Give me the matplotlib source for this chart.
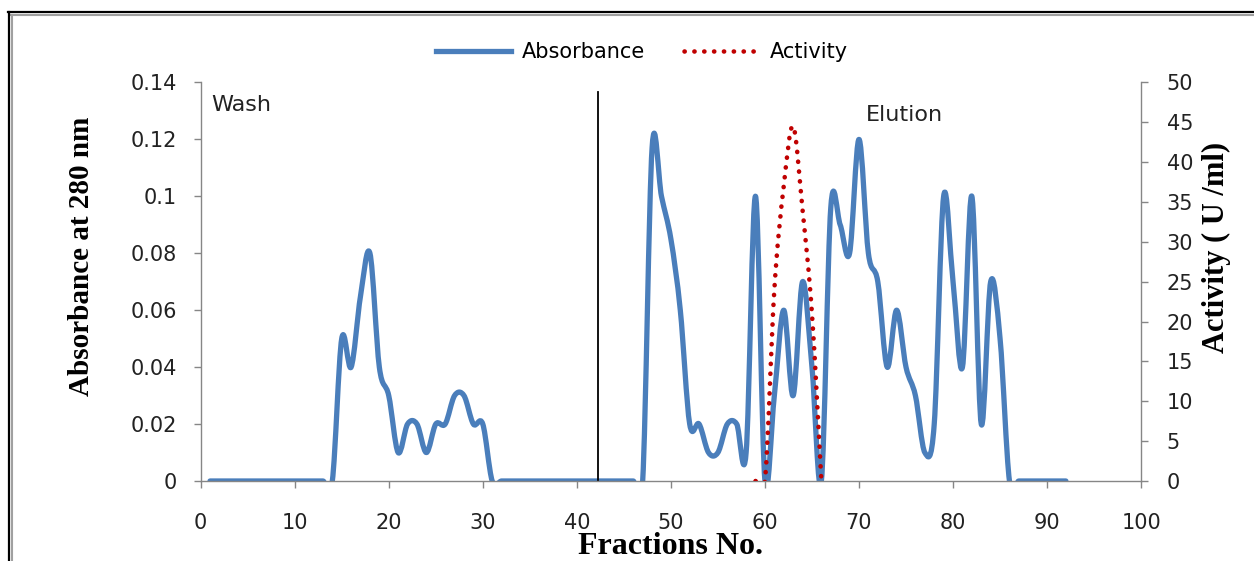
import matplotlib
matplotlib.use("Agg")
from matplotlib import pyplot as plt
from matplotlib.path import Path
from matplotlib.patches import PathPatch
from matplotlib.lines import Line2D
from matplotlib.ticker import FuncFormatter

# Absorbance at 280 nm for fractions 1..92
fractions = list(range(1, 93))
absorbance = ([0] * 13 +
              [0, 0.05, 0.04, 0.065, 0.08, 0.04, 0.03, 0.01, 0.02, 0.02,
               0.01, 0.02, 0.02, 0.03, 0.03, 0.02, 0.02, 0] +
              [0] * 16 +
              [0.117, 0.1, 0.085, 0.06, 0.02, 0.02, 0.01, 0.01, 0.02, 0.02,
               0.01, 0.1, 0, 0.03, 0.06, 0.03, 0.07, 0.04, 0,
               0.096, 0.09, 0.08, 0.12, 0.08, 0.07, 0.04, 0.06, 0.04, 0.03,
               0.01, 0.02, 0.1, 0.07, 0.04, 0.1, 0.02, 0.07, 0.05, 0] +
              [0] * 6)

# Enzyme activity (U/ml)
act_fractions = [59, 60, 61, 62, 63, 64, 65, 66]
activity = [0, 0, 24, 37, 44.5, 34, 21, 0]

wash_end = 42.2

BLUE = "#4A7EBB"
RED = "#C00000"
GRAY = "#868686"


def smooth_path(xs, ys):
    # Excel-style smoothed line: cubic Bezier segments through each point
    pts = list(zip(xs, ys))
    n = len(pts)
    verts = [pts[0]]
    codes = [Path.MOVETO]
    for i in range(n - 1):
        p0 = pts[i - 1] if i > 0 else pts[i]
        p1 = pts[i]
        p2 = pts[i + 1]
        p3 = pts[i + 2] if i + 2 < n else pts[i + 1]
        c1 = (p1[0] + (p2[0] - p0[0]) / 6, p1[1] + (p2[1] - p0[1]) / 6)
        c2 = (p2[0] - (p3[0] - p1[0]) / 6, p2[1] - (p3[1] - p1[1]) / 6)
        verts += [c1, c2, p2]
        codes += [Path.CURVE4] * 3
    return Path(verts, codes)


plt.rcParams['font.family'] = ['DejaVu Sans']
fig = plt.figure(dpi=100, figsize=(12.54, 5.61))
ax = fig.add_axes([0.160, 0.1426, 0.750, 0.7104])
ax2 = ax.twinx()

ax.add_patch(PathPatch(smooth_path(fractions, absorbance), fill=False,
                       edgecolor=BLUE, linewidth=3.8, capstyle='round',
                       joinstyle='round'))
ax2.add_patch(PathPatch(smooth_path(act_fractions, activity), fill=False,
                        edgecolor=RED, linewidth=3.3,
                        linestyle=(0, (0.05, 2.1)), capstyle='round'))

ax.plot([wash_end, wash_end], [0, 0.1367], color='black', lw=1.3)

ax.set_xlim(0, 100)
ax.set_ylim(0, 0.14)
ax2.set_ylim(0, 50)
ax.set_xticks(range(0, 101, 10))
ax.set_yticks([i * 0.02 for i in range(8)])
ax2.set_yticks(range(0, 51, 5))
ax.yaxis.set_major_formatter(FuncFormatter(lambda v, p: "%g" % round(v, 2)))

for a in (ax, ax2):
    a.spines['top'].set_visible(False)
    for s in ('left', 'right', 'bottom'):
        a.spines[s].set_color(GRAY)
        a.spines[s].set_linewidth(1.0)
    a.tick_params(colors=GRAY, labelcolor='#222222', length=5, width=1,
                  labelsize=15)
ax.tick_params(axis='x', pad=18)
ax.tick_params(axis='y', pad=12)
ax2.tick_params(axis='y', pad=13.5)
ax.spines['right'].set_visible(False)
ax2.spines['left'].set_visible(False)
ax2.spines['bottom'].set_visible(False)

ax.text(1.1, 0.132, "Wash", fontsize=16, va='center', ha='left',
        color='#222222')
ax.text(70.7, 0.1286, "Elution", fontsize=16, va='center', ha='left',
        color='#222222')

handles = [Line2D([], [], color=BLUE, lw=3.8),
           Line2D([], [], color=RED, lw=3.3, linestyle=(0, (0.05, 2.1)),
                  dash_capstyle='round')]
fig.legend(handles, ["Absorbance", "Activity"], loc='center',
           bbox_to_anchor=(0.512, 0.907), ncol=2, frameon=False,
           fontsize=15, handlelength=3.6, handletextpad=0.5,
           columnspacing=1.9)

serif = dict(family='Liberation Serif', weight='bold', color='black')
fig.text(82 / 1254, 1 - 256 / 561, "Absorbance at 280 nm", rotation=90,
         ha='center', va='center', fontsize=21, **serif)
fig.text(1216 / 1254, 1 - 247 / 561, "Activity ( U /ml)", rotation=90,
         ha='center', va='center', fontsize=22, **serif)
fig.text(671 / 1254, 1 - 554 / 561, "Fractions No.", ha='center',
         va='baseline', fontsize=23, **serif)

# chart border (top and left edges visible)
fig.add_artist(Line2D([8 / 1254, 1], [1 - 12 / 561] * 2,
                      transform=fig.transFigure, color='black', lw=1.6))
fig.add_artist(Line2D([10 / 1254, 1], [1 - 14.5 / 561] * 2,
                      transform=fig.transFigure, color='#A0A0A0', lw=1.5))
fig.add_artist(Line2D([9 / 1254] * 2, [0, 1 - 12 / 561],
                      transform=fig.transFigure, color='black', lw=1.6))
fig.add_artist(Line2D([11.5 / 1254] * 2, [0, 1 - 14.5 / 561],
                      transform=fig.transFigure, color='#A0A0A0', lw=1.5))

plt.savefig("out.png", dpi=100)
